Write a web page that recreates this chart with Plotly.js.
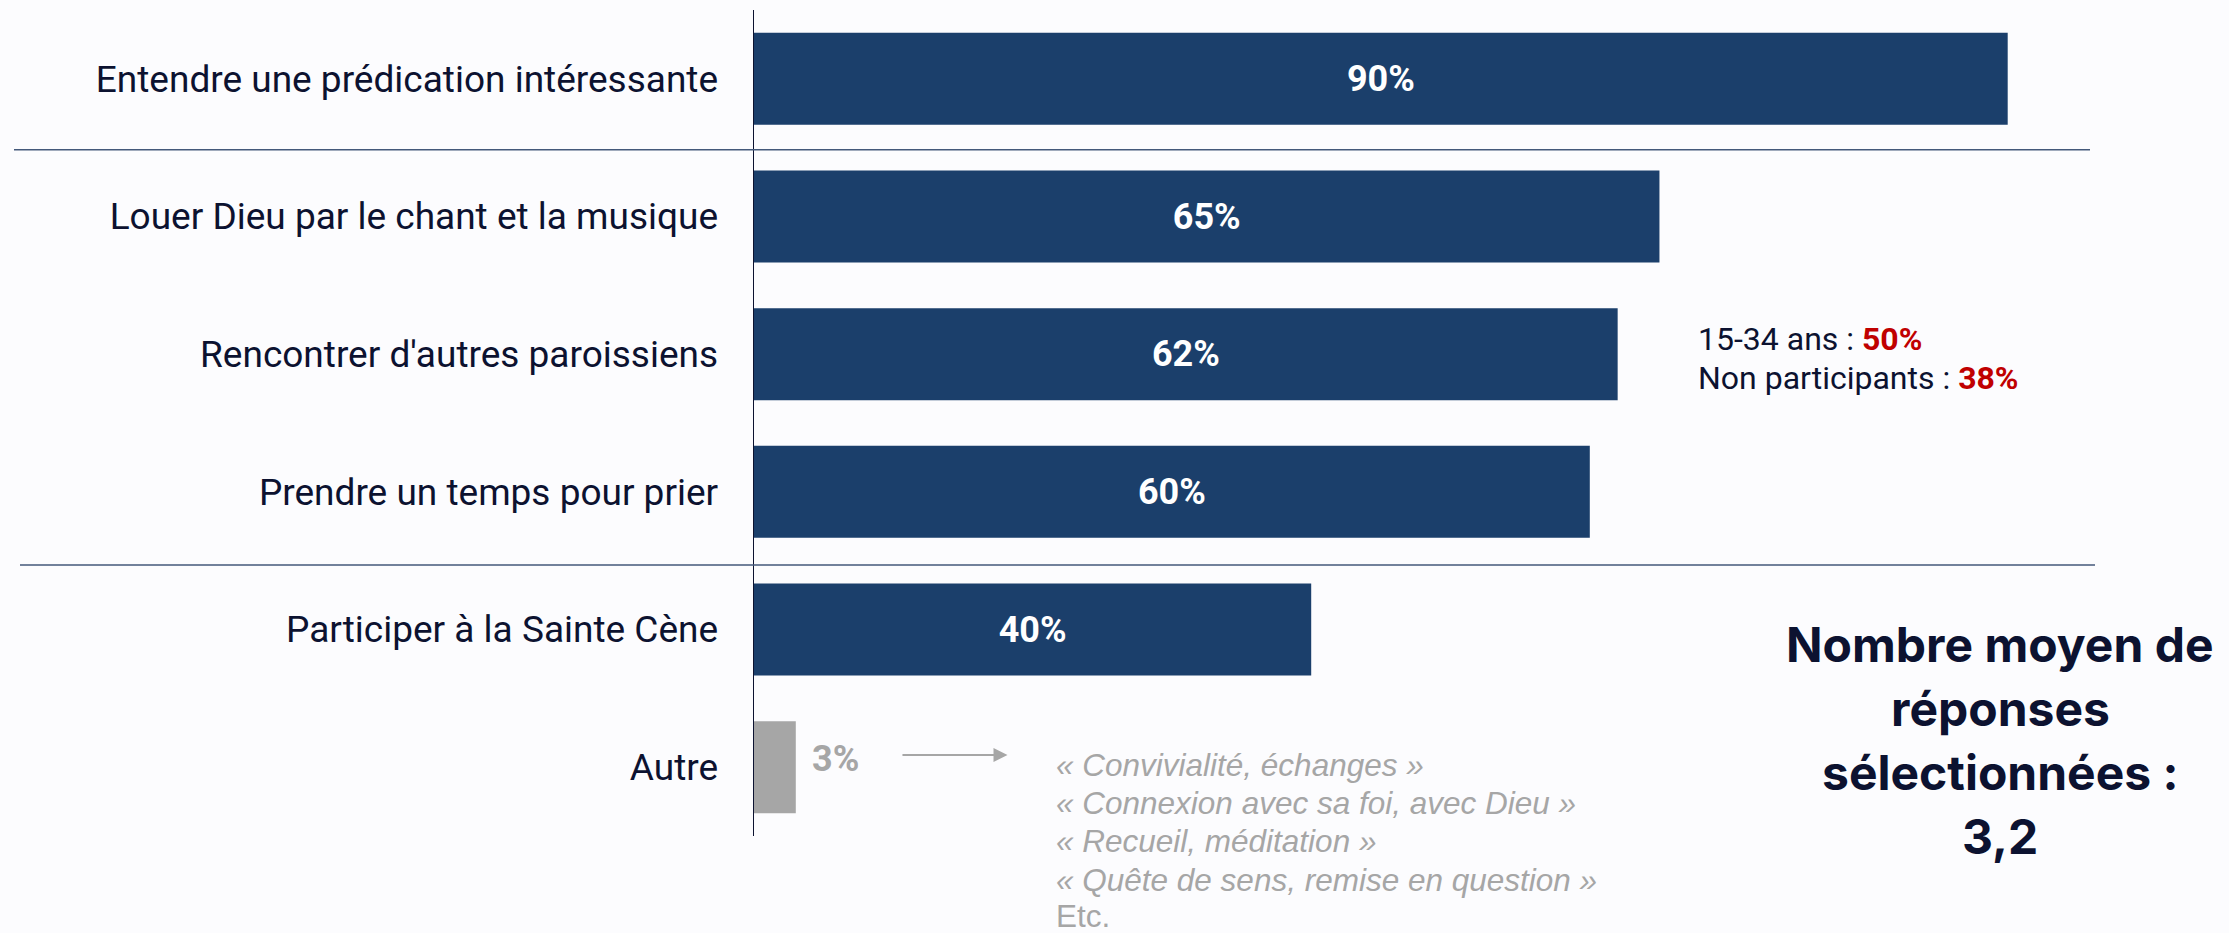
<!DOCTYPE html>
<html>
<head>
<meta charset="utf-8">
<script src="https://cdn.plot.ly/plotly-3.0.1.min.js"></script>
<style>
  html, body { margin: 0; padding: 0; background: #fcfcfe; }
  #chart { width: 2229px; height: 933px; }
</style>
</head>
<body>
<div id="chart"></div>
<script>
// ---- Data ----
const categories = [
  'Entendre une prédication intéressante',
  'Louer Dieu par le chant et la musique',
  "Rencontrer d'autres paroissiens",
  'Prendre un temps pour prier',
  'Participer à la Sainte Cène',
  'Autre'
];
const values = [90, 65, 62, 60, 40, 3];

const noteLabels = ['15-34 ans', 'Non participants'];
const noteValues = [50, 38];

const otherQuotes = [
  '« Convivialité, échanges »',
  '« Connexion avec sa foi, avec Dieu »',
  '« Recueil, méditation »',
  '« Quête de sens, remise en question »',
  'Etc.'
];

const headingLines = ['Nombre moyen de', 'réponses', 'sélectionnées :'];
const avgResponses = 3.2;

// ---- Styling ----
const NAVY = '#1b3f6b';
const GREY = '#a6a6a6';
const INK = '#0c1230';
const RED = '#c00000';
const lastIdx = values.length - 1;

// plot area geometry (px) for paper-coordinate conversions
const W = 2229, H = 933;
const mL = 754, mR = 82, mT = 10, mB = 97;
const pw = W - mL - mR, ph = H - mT - mB;
const px = x => (x - mL) / pw;
const py = y => (H - mB - y) / ph;

const trace = {
  type: 'bar',
  orientation: 'h',
  y: categories,
  x: values,
  marker: { color: values.map((v, i) => i === lastIdx ? GREY : NAVY) },
  text: values.map((v, i) => i === lastIdx ? '' : v + '%'),
  textposition: 'inside',
  insidetextanchor: 'middle',
  constraintext: 'none',
  textangle: 0,
  textfont: { family: 'Roboto', size: 36, color: '#ffffff', weight: 700 },
  hoverinfo: 'none'
};

const annotations = [];

// "3%" label beside the small bar
annotations.push({
  xref: 'x', yref: 'y', x: values[lastIdx], y: categories[lastIdx],
  xanchor: 'left', yanchor: 'middle', xshift: 14, yshift: 8,
  text: '<b>' + values[lastIdx] + '%</b>', showarrow: false,
  font: { family: 'Roboto', size: 36, color: GREY }
});

// arrow towards quotes
annotations.push({
  xref: 'x', yref: 'paper', axref: 'x', ayref: 'pixel',
  x: 18.2, y: py(755), ax: 10.55, ay: 0,
  text: '', showarrow: true, arrowhead: 2, arrowsize: 1.4, arrowwidth: 2,
  arrowcolor: GREY
});

// quotes
const quoteY = [764.7, 803, 841, 879.7, 916];
otherQuotes.forEach((q, i) => {
  annotations.push({
    xref: 'paper', yref: 'paper', x: px(1054), y: py(quoteY[i]),
    xanchor: 'left', yanchor: 'middle', showarrow: false,
    text: i === otherQuotes.length - 1 ? q : '<i>' + q + '</i>',
    font: { family: 'Liberation Sans', size: 31.5, color: GREY }
  });
});

// notes for "Rencontrer d'autres paroissiens"
const noteY = [339, 378];
noteLabels.forEach((lab, i) => {
  annotations.push({
    xref: 'paper', yref: 'paper', x: px(1696), y: py(noteY[i]),
    xanchor: 'left', yanchor: 'middle', showarrow: false,
    text: lab + ' : <span style="color:' + RED + '"><b>' + noteValues[i] + '%</b></span>',
    font: { family: 'Roboto', size: 32, color: INK }
  });
});

// heading block
const headY = [644.7, 708.8, 772.9, 837];
const headTexts = headingLines.concat([avgResponses.toFixed(1).replace('.', ',')]);
headTexts.forEach((t, i) => {
  annotations.push({
    xref: 'paper', yref: 'paper', x: px(2000), y: py(headY[i]),
    xanchor: 'center', yanchor: 'middle', showarrow: false,
    text: '<b>' + t + '</b>',
    font: { family: 'Inter', size: 48, color: INK }
  });
});

const shapes = [
  { type: 'line', xref: 'paper', yref: 'paper', x0: px(14), x1: px(2090), y0: py(149.7), y1: py(149.7),
    line: { color: '#44597a', width: 1.5 } },
  { type: 'line', xref: 'paper', yref: 'paper', x0: px(20), x1: px(2095), y0: py(565), y1: py(565),
    line: { color: '#44597a', width: 1.5 } }
];

const layout = {
  width: W, height: H,
  paper_bgcolor: '#fcfcfe', plot_bgcolor: '#fcfcfe',
  margin: { l: mL, r: mR, t: mT, b: mB, pad: 0 },
  showlegend: false,
  bargap: 0.332,
  xaxis: { range: [0, 100], visible: false, fixedrange: true },
  yaxis: {
    type: 'category', autorange: false, range: [5.5, -0.5],
    showline: true, linecolor: INK, linewidth: 1.5,
    showgrid: false, zeroline: false, ticks: '',
    ticklabelstandoff: 27,
    tickfont: { family: 'Roboto', size: 37, color: INK },
    fixedrange: true
  },
  annotations: annotations,
  shapes: shapes
};

Plotly.newPlot('chart', [trace], layout, { displayModeBar: false, staticPlot: true });
</script>
</body>
</html>
